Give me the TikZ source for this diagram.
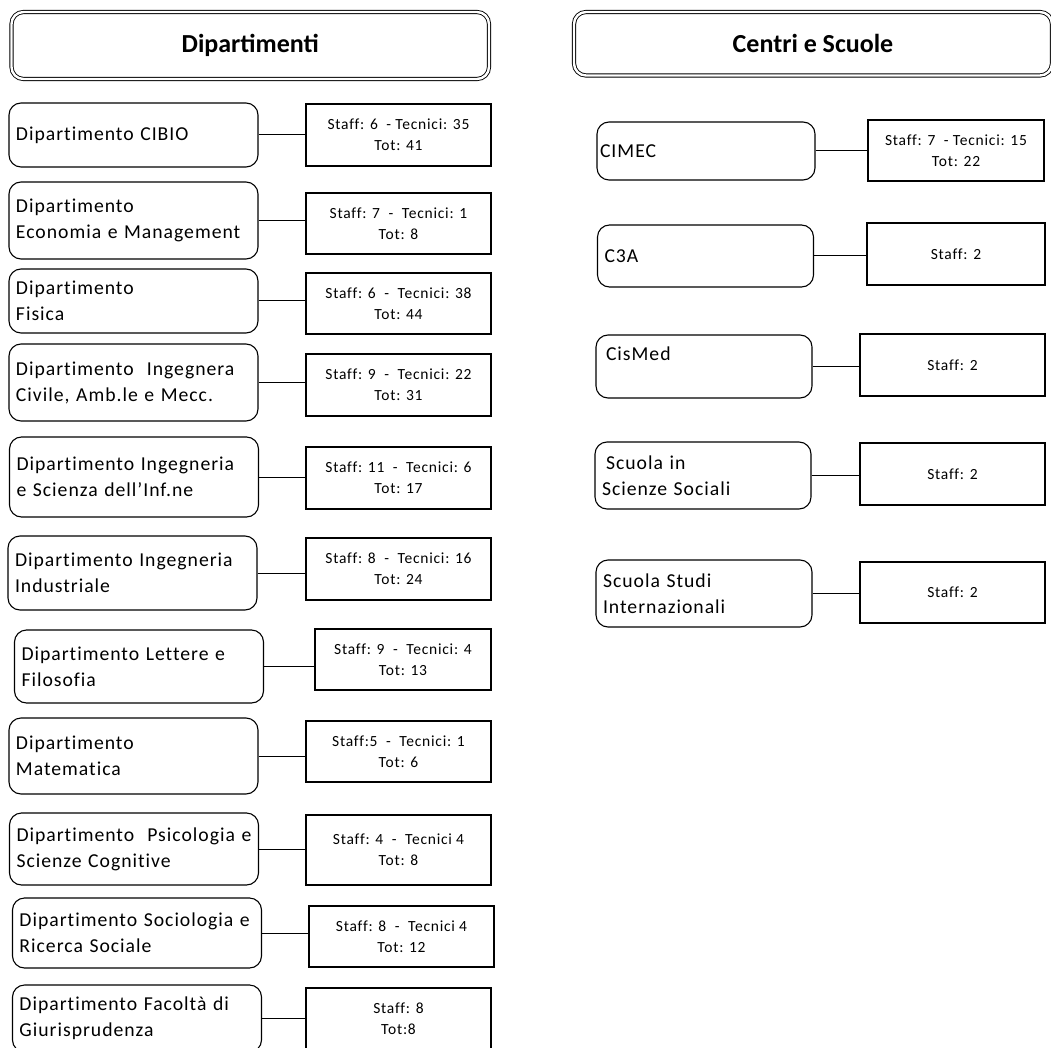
\documentclass[tikz,border=0pt]{standalone}
\usepackage{fontspec}
\setmainfont{Carlito}[LetterSpace=5,Ligatures=NoCommon]
\newfontfamily\headfont{Carlito}
\begin{document}
\begin{tikzpicture}[x=1pt,y=-1pt,
    header/.style={draw,double,double distance=2.4pt,line width=0.9pt,rounded corners=12pt,font=\headfont\bfseries\fontsize{26}{30}\selectfont},
    dept/.style={draw,line width=1.1pt,rounded corners=12pt,align=left,inner xsep=7pt,text width=235pt,font=\fontsize{19.7}{26}\selectfont},
    centro/.style={dept,text width=202pt},
    staffbox/.style={draw,line width=1.1pt,align=center,minimum width=185pt,font=\fontsize{15.5}{21}\selectfont},
    link/.style={line width=1pt}]
    \useasboundingbox (0,0) rectangle (1051,1048);
    % intestazioni
    \node[header,minimum width=477.5pt,minimum height=67pt] (hdip) at (250.25,45.5) {Dipartimenti};
    \node[header,minimum width=478pt,minimum height=63.5pt] (hcen) at (813,43.75) {Centri e Scuole};
    % dipartimenti
    \node[dept,minimum height=64pt] (cibio) at (133.5,135) {Dipartimento CIBIO};
    \node[dept,minimum height=77pt] (econ) at (133.5,220.5) {Dipartimento\\Economia e Management};
    \node[dept,minimum height=64pt] (fis) at (133.5,301) {Dipartimento\\Fisica};
    \node[dept,minimum height=77pt] (dicam) at (133.5,382.5) {Dipartimento~ Ingegnera\\Civile, Amb.le e Mecc.};
    \node[dept,minimum height=80pt] (disi) at (134,477) {Dipartimento Ingegneria\\e Scienza dell’Inf.ne};
    \node[dept,minimum height=74pt] (dii) at (132.5,573) {Dipartimento Ingegneria\\Industriale};
    \node[dept,minimum height=73pt] (lett) at (139,666.5) {Dipartimento Lettere e\\Filosofia};
    \node[dept,minimum height=76pt] (mat) at (133.5,756) {Dipartimento\\Matematica};
    \node[dept,minimum height=72pt] (psi) at (134,849) {\mbox{Dipartimento~ Psicologia e}\\Scienze Cognitive};
    \node[dept,minimum height=70pt] (soc) at (137,933) {Dipartimento Sociologia e\\Ricerca Sociale};
    \node[dept,minimum height=67pt] (giur) at (137,1018.5) {Dipartimento Facoltà di\\Giurisprudenza};
    % personale dipartimenti
    \node[staffbox,minimum height=62pt] (s-cibio) at (398.5,135) {Staff: 6~ - Tecnici: 35\\Tot: 41};
    \node[staffbox,minimum height=61pt] (s-econ) at (398.5,223.5) {Staff: 7~ -~ Tecnici: 1\\Tot: 8};
    \node[staffbox,minimum height=61pt] (s-fis) at (398.5,303.5) {Staff: 6~ -~ Tecnici: 38\\Tot: 44};
    \node[staffbox,minimum height=62pt] (s-dicam) at (398.5,385) {Staff: 9~ -~ Tecnici: 22\\Tot: 31};
    \node[staffbox,minimum height=62pt] (s-disi) at (398.5,478) {Staff: 11~ -~ Tecnici: 6\\Tot: 17};
    \node[staffbox,minimum height=62pt] (s-dii) at (398.5,569) {Staff: 8~ -~ Tecnici: 16\\Tot: 24};
    \node[staffbox,minimum height=61pt,minimum width=176pt] (s-lett) at (403,659.5) {Staff: 9~ -~ Tecnici: 4\\Tot: 13};
    \node[staffbox,minimum height=61pt] (s-mat) at (398.5,751.5) {Staff:5~ -~ Tecnici: 1\\Tot: 6};
    \node[staffbox,minimum height=70pt] (s-psi) at (398.5,850) {Staff: 4~ -~ Tecnici 4\\Tot: 8};
    \node[staffbox,minimum height=61pt] (s-soc) at (401.5,936.5) {Staff: 8~ -~ Tecnici 4\\Tot: 12};
    \node[staffbox,minimum height=62pt] (s-giur) at (398.5,1019) {Staff: 8\\Tot:8};
    % centri e scuole
    \node[centro,minimum height=58pt,inner xsep=3pt,text width=212pt] (cimec) at (706,151) {CIMEC};
    \node[centro,minimum height=62pt] (c3a) at (705.5,256) {C3A};
    \node[centro,minimum height=63pt] (cismed) at (704,366.5) {\hspace{3pt}CisMed\\\mbox{}};
    \node[centro,minimum height=67pt] (sss) at (703,475.5) {\hspace{4pt}Scuola in\\Scienze Sociali};
    \node[centro,minimum height=67pt] (sis) at (704,593.5) {Scuola Studi\\Internazionali};
    \node[staffbox,minimum height=61pt,minimum width=176pt] (s-cimec) at (956,150.5) {Staff: 7~ - Tecnici: 15\\Tot: 22};
    \node[staffbox,minimum height=62pt,minimum width=178pt] (s-c3a) at (956,254) {Staff: 2};
    \node[staffbox,minimum height=62pt] (s-cismed) at (952.5,365) {Staff: 2};
    \node[staffbox,minimum height=62pt] (s-sss) at (952.5,474) {Staff: 2};
    \node[staffbox,minimum height=61pt] (s-sis) at (952.5,592.5) {Staff: 2};
    % collegamenti
    \foreach \n in {cibio,econ,fis,dicam,disi,dii,lett,mat,psi,soc,giur,cimec,c3a,cismed,sss,sis}
        \draw[link] (\n.east) -- (\n.east -| s-\n.west);
\end{tikzpicture}
\end{document}
